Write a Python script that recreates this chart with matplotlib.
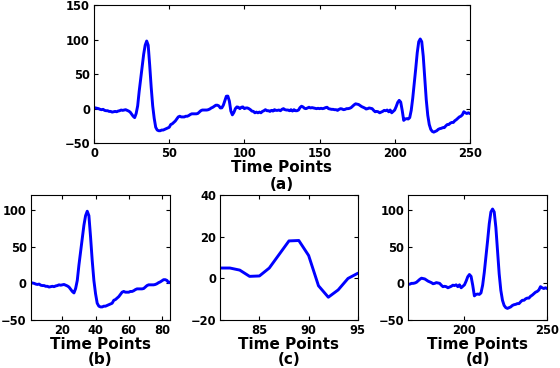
import numpy as np
import matplotlib
matplotlib.use('Agg')
import matplotlib.pyplot as plt

plt.rcParams['font.family'] = ['DejaVu Sans']
plt.rcParams['font.weight'] = 'bold'

# signal values for time points 1..250
values = [
    1, 0.5, 0, -1, -1.5, -1, -2.5, -3, -3, -4,
    -4, -5, -4.5, -4, -4.5, -3.5, -3, -2, -2.5, -2,
    -1.5, -2.5, -3.5, -5, -8, -11, -13, -7, 4, 25,
    43, 61, 79, 92, 98, 92, 63, 31, 4, -14,
    -27, -31, -32, -32, -31, -31, -30, -29, -28, -27,
    -23, -22, -20, -18, -15, -12, -11, -12, -12, -12,
    -11, -11, -10, -8.5, -7.5, -7.5, -7.5, -7.5, -7, -5,
    -3, -2, -2, -2, -2, -1.5, -0.5, 1, 2, 3.5,
    5, 5, 4, 1, 1.2, 5, 11.5, 18, 18.2, 11,
    -3.5, -9, -5.5, 0, 2.5, 2, 0, 2, 2.5, 0,
    1, 1, 0, -1.5, -3.5, -4, -6, -5, -6, -5,
    -6, -4, -3, -1.5, -3, -3, -4, -2.5, -3.5, -1.5,
    -2.5, -2.5, -2, -3, -1, 0, -1.5, -2, -2, -3,
    -1.5, -3.5, -1.5, -3, -3, -2, 1.5, 3.5, 2.5, 0.5,
    0, 1, 2, 1, 1.5, 1, 0.5, 0, 0.5, 0,
    0.5, 0, 0.5, 1.5, 2, 0, -0.5, -1, -1, -1.5,
    -1.5, -2.5, -1, 0, -0.5, -1.5, -1, 0, 0, 0.5,
    1.5, 3.5, 5.5, 7, 6.5, 6, 4.5, 3, 2, 1,
    -0.5, 0, 1, 0.5, 0, -2.5, -4.5, -4, -4.5, -6,
    -5, -4, -2.5, -3, -2, -4.5, -2, -6, -4, -2,
    3, 9, 12, 9.5, -2.5, -17, -15, -14.5, -15, -13,
    -2.5, 15, 36, 58, 81, 97, 101, 97, 76, 45,
    13, -9.5, -23, -30, -33, -34, -33, -32, -30, -29,
    -28.5, -27.5, -27.5, -25, -23, -23, -21, -20, -20, -17.5,
    -16, -14, -12, -11, -9, -4.5, -6, -7, -6, -7,
]
time_points = np.arange(1, len(values) + 1)

fig = plt.figure(figsize=(5.6, 3.68), dpi=100)

panels = [
    # rect, xlim, ylim, xticks, yticks, caption, line spacing of label
    ([0.168, 0.611, 0.671, 0.375], (0, 250), (-50, 150), [0, 50, 100, 150, 200, 250], [-50, 0, 50, 100, 150], '(a)', 1.12),
    ([0.055, 0.130, 0.249, 0.340], (1, 85), (-50, 120), [20, 40, 60, 80], [-50, 0, 50, 100], '(b)', 0.95),
    ([0.393, 0.130, 0.246, 0.340], (81, 95), (-20, 40), [85, 90, 95], [-20, 0, 20, 40], '(c)', 0.95),
    ([0.729, 0.130, 0.248, 0.340], (166, 250), (-50, 120), [200, 250], [-50, 0, 50, 100], '(d)', 0.95),
]

for rect, xl, yl, xt, yt, cap, ls in panels:
    ax = fig.add_axes(rect)
    ax.plot(time_points, values, color='blue', lw=2.1)
    ax.set_xlim(xl)
    ax.set_ylim(yl)
    ax.set_xticks(xt)
    ax.set_yticks(yt)
    ax.tick_params(direction='in', top=True, right=True, labelsize=8.3, length=3, pad=3)
    for lab in ax.get_xticklabels() + ax.get_yticklabels():
        lab.set_fontweight('bold')
    ax.set_xlabel('Time Points\n' + cap, fontsize=11, fontweight='bold', labelpad=0, linespacing=ls)

fig.savefig('out.png', dpi=100)
